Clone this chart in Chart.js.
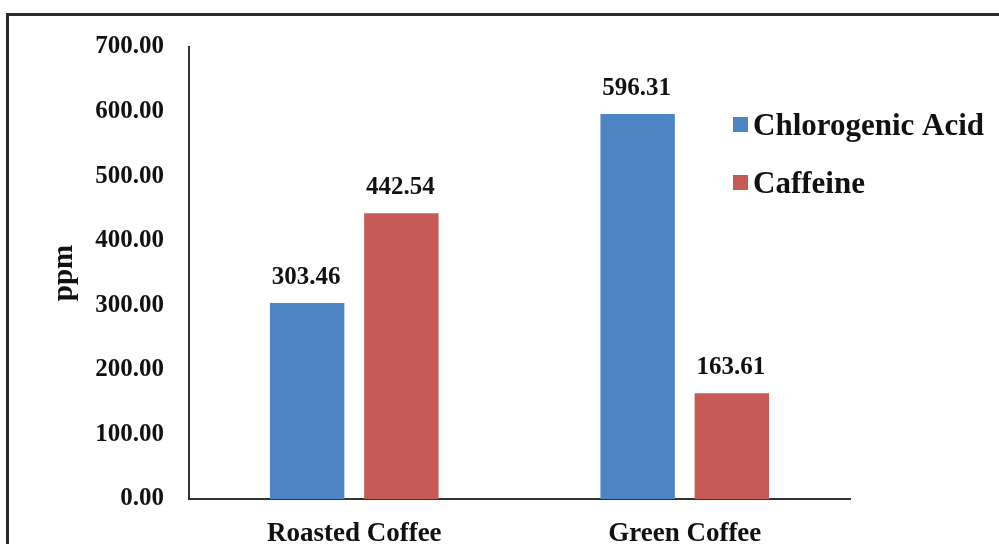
<!DOCTYPE html>
<html>
<head>
<meta charset="utf-8">
<script src="https://cdn.jsdelivr.net/npm/chart.js@4.4.1/dist/chart.umd.min.js"></script>
<style>
  html, body { margin: 0; padding: 0; background: #fff; }
  #wrap { position: relative; width: 999px; height: 544px; overflow: hidden; }
  #frame { position: absolute; left: 6px; top: 13px; width: 1100px; height: 600px;
           border-top: 3px solid #2a2a2a; border-left: 3px solid #2a2a2a; }
  #chart { position: absolute; left: 0; top: 0; }
</style>
</head>
<body>
<div id="wrap">
  <div id="frame"></div>
  <canvas id="chart" width="999" height="544"></canvas>
</div>
<script>
(function () {
  'use strict';

  // chart values
  const categories = ['Roasted Coffee', 'Green Coffee'];
  const chlorogenic = [303.46, 596.31];
  const caffeine = [442.54, 163.61];
  const seriesNames = ['Chlorogenic Acid', 'Caffeine'];
  const yTicks = [0, 100, 200, 300, 400, 500, 600, 700];

  const BLUE = '#4d85c4';
  const RED = '#c65a56';
  const SERIF = '"Liberation Serif", "Times New Roman", serif';

  // value labels above each bar
  const valueLabels = {
    id: 'valueLabels',
    afterDatasetsDraw(chart) {
      const ctx = chart.ctx;
      ctx.save();
      ctx.font = 'bold 25px ' + SERIF;
      ctx.fillStyle = '#111';
      ctx.textAlign = 'center';
      ctx.textBaseline = 'alphabetic';
      chart.data.datasets.forEach((ds, i) => {
        chart.getDatasetMeta(i).data.forEach((bar, j) => {
          ctx.fillText(ds.data[j].toFixed(2), bar.x - 1, bar.y - 19);
        });
      });
      ctx.restore();
    }
  };

  // legend drawn inside the plot, top right
  const sideLegend = {
    id: 'sideLegend',
    afterDraw(chart) {
      const ctx = chart.ctx;
      ctx.save();
      ctx.font = 'bold 31px ' + SERIF;
      ctx.textBaseline = 'middle';
      chart.data.datasets.forEach((ds, i) => {
        const y = 125 + i * 58;
        ctx.fillStyle = ds.backgroundColor;
        ctx.fillRect(733, y - 8, 15, 15);
        ctx.fillStyle = '#111';
        ctx.fillText(ds.label, 753, y + 2);
      });
      ctx.restore();
    }
  };

  new Chart(document.getElementById('chart'), {
    type: 'bar',
    data: {
      labels: categories,
      datasets: [
        { label: seriesNames[0], data: chlorogenic, backgroundColor: BLUE },
        { label: seriesNames[1], data: caffeine, backgroundColor: RED },
      ],
    },
    options: {
      responsive: false,
      animation: false,
      layout: { padding: { top: 47, right: 149, bottom: 0, left: 0 } },
      categoryPercentage: 0.57,
      barPercentage: 0.79,
      plugins: {
        legend: { display: false },
        tooltip: { enabled: false },
      },
      scales: {
        x: {
          grid: { display: false },
          border: { display: true, color: '#333', width: 2 },
          ticks: { color: '#111', padding: 11, font: { family: SERIF, size: 27, weight: 'bold' } },
          afterFit: s => { s.height = 45; },
        },
        y: {
          min: 0,
          max: 700,
          afterBuildTicks: s => { s.ticks = yTicks.map(v => ({ value: v })); },
          grid: { display: false },
          border: { display: true, color: '#333', width: 2 },
          ticks: {
            color: '#111', padding: 17,
            font: { family: SERIF, size: 25, weight: 'bold' },
            callback: v => v.toFixed(2),
          },
          title: {
            display: true, text: 'ppm', color: '#111',
            padding: { top: 47, bottom: 0 },
            font: { family: SERIF, size: 29, weight: 'bold' },
          },
          afterFit: s => { s.width = 189; },
        },
      },
    },
    plugins: [valueLabels, sideLegend],
  });
})();
</script>
</body>
</html>
